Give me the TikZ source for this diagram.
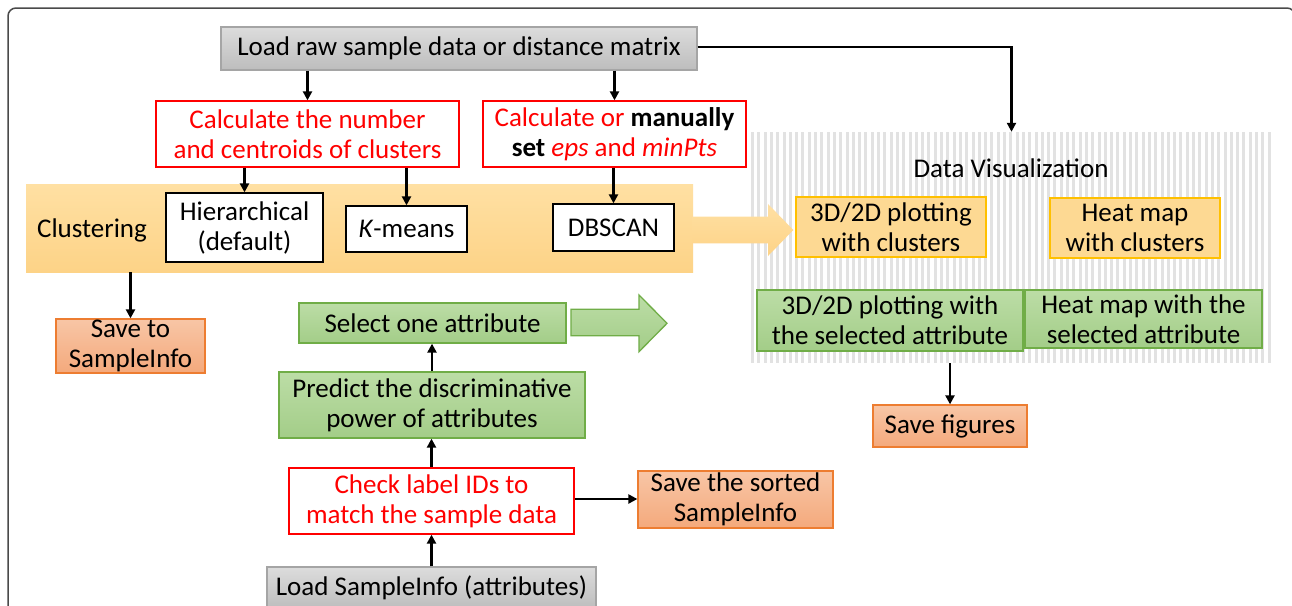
\documentclass[tikz,border=0pt]{standalone}
\usepackage{fontspec}
\setmainfont{Carlito}
\usetikzlibrary{arrows.meta,calc}
\definecolor{cgraytop}{HTML}{DCDCDC}
\definecolor{cgraybot}{HTML}{BDBDBD}
\definecolor{cgrayb}{HTML}{A5A5A5}
\definecolor{cred}{HTML}{FF0000}
\definecolor{cbandtop}{HTML}{FFE0A3}
\definecolor{cbandbot}{HTML}{FDD387}
\definecolor{cyel}{HTML}{FDD993}
\definecolor{cgold}{HTML}{FFC000}
\definecolor{cgreentop}{HTML}{BCDDA6}
\definecolor{cgreenbot}{HTML}{A3CD88}
\definecolor{cgreenb}{HTML}{70AD47}
\definecolor{csavetop}{HTML}{F8C6A6}
\definecolor{csavebot}{HTML}{F4A97C}
\definecolor{csaveb}{HTML}{ED7D31}
\definecolor{cstripe}{HTML}{E2E2E2}
\definecolor{cframe}{HTML}{4A4A4A}
\tikzset{
  box/.style={draw, line width=1.3pt, inner sep=0pt, align=center, font=\fontsize{27}{30}\selectfont},
  graybox/.style={box, draw=cgrayb, top color=cgraytop, bottom color=cgraybot},
  redbox/.style={box, draw=cred, fill=white, text=cred},
  whitebox/.style={box, draw=black, fill=white},
  yelbox/.style={box, draw=cgold, fill=cyel},
  greenbox/.style={box, draw=cgreenb, top color=cgreentop, bottom color=cgreenbot},
  savebox/.style={box, draw=csaveb, top color=csavetop, bottom color=csavebot},
  plain/.style={inner sep=0pt, font=\fontsize{27}{30}\selectfont},
  arr/.style={-{Triangle[length=9pt,width=9pt]}, line width=2.2pt},
}
\begin{document}
\begin{tikzpicture}[x=1pt,y=-1pt]
\useasboundingbox (0,0) rectangle (1292,605);
\clip (0,0) rectangle (1292,605);
\fill[white] (0,0) rectangle (1292,605);
% frame
\draw[cframe, line width=1.5pt, rounded corners=8pt] (8,8) rectangle (1295,640);

% data visualization region
\node[inner sep=0pt, minimum width=523pt, minimum height=231pt] (viz) at (1011.5,247.5) {};
\foreach \i in {0,...,82} {
  \draw[cstripe, line width=3pt] (752.5+\i*6.3,132) -- (752.5+\i*6.3,363);
}
\node[plain] (dvlabel) at (1011,168) {Data Visualization};

% clustering band
\node[inner sep=0pt, minimum width=667pt, minimum height=88pt, top color=cbandtop, bottom color=cbandbot] (band) at (359.5,228) {};
\shade[top color=cbandtop, bottom color=cbandbot] (692,216.7) -- (768,216.7) -- (768,204) -- (793.3,230) -- (768,256) -- (768,243.3) -- (692,243.3) -- cycle;

% top
\node[graybox, minimum width=476pt, minimum height=43pt] (top) at (459,48.5) {Load raw sample data or distance matrix};
\node[redbox, minimum width=303pt, minimum height=66pt] (calc1) at (307.5,134) {Calculate the number\\and centroids of clusters};
\node[redbox, minimum width=263pt, minimum height=66pt] (calc2) at (614.5,134) {Calculate or {\color{black}\bfseries manually}\\{\color{black}\bfseries set} \textit{eps} and \textit{minPts}};

% clustering
\node[plain] (clulabel) at (92,230) {Clustering};
\node[whitebox, minimum width=157pt, minimum height=69pt] (hier) at (244.5,227.5) {Hierarchical\\(default)};
\node[whitebox, minimum width=121pt, minimum height=46pt] (kmeans) at (406.5,229) {\textit{K}-means};
\node[whitebox, minimum width=121pt, minimum height=47pt] (dbscan) at (613.5,227.5) {DBSCAN};

% visualization boxes
\node[yelbox, minimum width=190pt, minimum height=60pt] (plot1) at (891,227) {3D/2D plotting\\with clusters};
\node[yelbox, minimum width=170pt, minimum height=60pt] (heat1) at (1135,228) {Heat map\\with clusters};
\node[greenbox, minimum width=266pt, minimum height=61pt] (plot2) at (890,320.5) {3D/2D plotting with\\the selected attribute};
\node[greenbox, minimum width=237pt, minimum height=58pt] (heat2) at (1143.5,319) {Heat map with the\\selected attribute};

% save boxes
\node[savebox, minimum width=149pt, minimum height=54pt] (save1) at (130.5,346) {Save to\\SampleInfo};
\node[savebox, minimum width=154pt, minimum height=42pt] (savefig) at (950,426) {Save figures};
\node[savebox, minimum width=195pt, minimum height=57pt] (savesorted) at (735.5,499.5) {Save the sorted\\SampleInfo};

% attribute chain
\node[greenbox, minimum width=267pt, minimum height=40pt] (select) at (432.5,323) {Select one attribute};
\node[greenbox, minimum width=306pt, minimum height=66pt] (predict) at (432,405) {Predict the discriminative\\power of attributes};
\node[redbox, minimum width=285pt, minimum height=66pt] (check) at (431.5,501) {Check label IDs to\\match the sample data};
\node[graybox, minimum width=329pt, minimum height=42pt] (loadinfo) at (431.5,588) {Load SampleInfo (attributes)};

% green big arrow
\draw[cgreenb, line width=1.3pt, top color=cgreentop, bottom color=cgreenbot] (571,309.3) -- (639,309.3) -- (639,295) -- (667,323.3) -- (639,351.7) -- (639,335.7) -- (571,335.7) -- cycle;

% connectors
\coordinate (tope) at ($(top.east)+(0,-1.5)$);
\coordinate (checke) at ($(check.east)+(0,-2)$);
\draw[arr] (top.south -| calc1.north) -- (calc1.north);
\draw[arr] (top.south -| calc2.north) -- (calc2.north);
\draw[arr] (tope) -| (viz.north);
\draw[arr] (calc1.south -| hier.north) -- (hier.north);
\draw[arr] (calc1.south -| kmeans.north) -- (kmeans.north);
\draw[arr] (calc2.south -| dbscan.north) -- (dbscan.north);
\draw[arr] (band.south -| save1.north) -- (save1.north);
\draw[arr] (viz.south -| savefig.north) -- (savefig.north);
\draw[arr] (loadinfo.north) -- (loadinfo.north |- check.south);
\draw[arr] (check.north) -- (check.north |- predict.south);
\draw[arr] (predict.north) -- (predict.north |- select.south);
\draw[arr] (checke) -- (checke -| savesorted.west);
\end{tikzpicture}
\end{document}
